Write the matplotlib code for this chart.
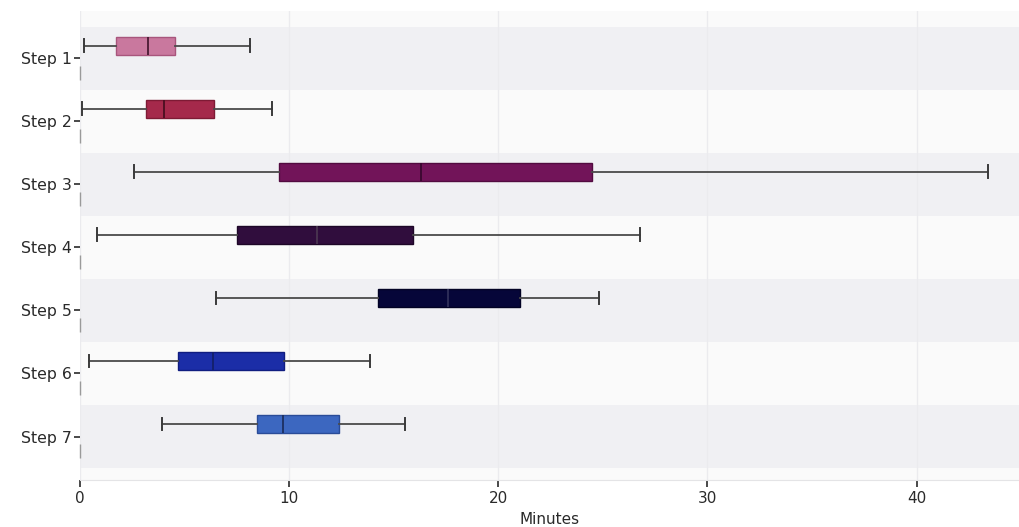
import matplotlib.pyplot as plt
import numpy as np

steps = ["Step 1", "Step 2", "Step 3", "Step 4", "Step 5", "Step 6", "Step 7"]
whisker_low = [0.2, 0.1, 2.6, 0.8, 6.5, 0.45, 3.9]
q1 = [1.7, 3.15, 9.5, 7.5, 14.25, 4.7, 8.45]
median = [3.25, 4.0, 16.3, 11.35, 17.6, 6.35, 9.7]
q3 = [4.55, 6.4, 24.5, 15.9, 21.05, 9.75, 12.4]
whisker_high = [8.15, 9.2, 43.4, 26.8, 24.8, 13.85, 15.55]
colors = ["#c9789e", "#a5294b", "#721459", "#300d3d", "#060639", "#1b2da7", "#3c67c0"]
edge_colors = ["#a8557c", "#7e1a35", "#520b40", "#1d0627", "#020224", "#101d80", "#2a4c98"]
median_colors = ["#4a1a33", "#4a0f20", "#3a0830", "#4a3550", "#30305a", "#14206a", "#1c2f60"]

plt.rcParams['font.family'] = ['DejaVu Sans']

fig = plt.figure(figsize=(10.19, 5.27), dpi=100)
ax = fig.add_axes([80 / 1019, 47 / 527, 939 / 1019, 469 / 527])
ax.set_facecolor("#fafafa")

# alternating row bands
for i in range(len(steps)):
    if i % 2 == 0:
        ax.axhspan(i - 0.5, i + 0.5, color="#f0f0f3", zorder=0, lw=0)

for x in [0, 10, 20, 30, 40]:
    ax.axvline(x, color="#ebebee", lw=1, zorder=0.5)

stats = []
for i in range(len(steps)):
    stats.append({
        "whislo": whisker_low[i], "q1": q1[i], "med": median[i],
        "q3": q3[i], "whishi": whisker_high[i], "fliers": [],
    })

positions = np.arange(len(steps)) - 0.2
bp = ax.bxp(stats, positions=positions, widths=0.29, orientation="horizontal",
            patch_artist=True, capwidths=0.2, showfliers=False,
            whiskerprops=dict(color="#4a4a4a", lw=1.3),
            capprops=dict(color="#3a3a3a", lw=1.4),
            manage_ticks=False, zorder=3)
for i, box in enumerate(bp["boxes"]):
    box.set_facecolor(colors[i])
    box.set_edgecolor(edge_colors[i])
    box.set_linewidth(1)
for i, med in enumerate(bp["medians"]):
    med.set_color(median_colors[i])
    med.set_linewidth(1.3)

# small marks at zero under each row
ax.scatter(np.zeros(len(steps)), np.arange(len(steps)) + 0.23, marker="|",
           s=90, color="#9a9a9a", lw=1, zorder=2, clip_on=False)

ax.set_yticks(np.arange(len(steps)))
ax.set_yticklabels(steps, fontsize=11.3, color="#2a2a2a")
ax.set_ylim(6.69, -0.75)
ax.set_xlim(0, 44.9)
ax.set_xticks([0, 10, 20, 30, 40])
ax.tick_params(axis="x", labelsize=11, colors="#2a2a2a", length=5, width=1.2, pad=3)
ax.tick_params(axis="y", length=4, width=1.2, pad=2, colors="#2a2a2a")
ax.set_xlabel("Minutes", fontsize=11, color="#2a2a2a", labelpad=4)

for s in ["top", "right", "left"]:
    ax.spines[s].set_visible(False)
ax.spines["bottom"].set_color("#e4e4e6")

fig.savefig("out.png", dpi=100, facecolor="white")
